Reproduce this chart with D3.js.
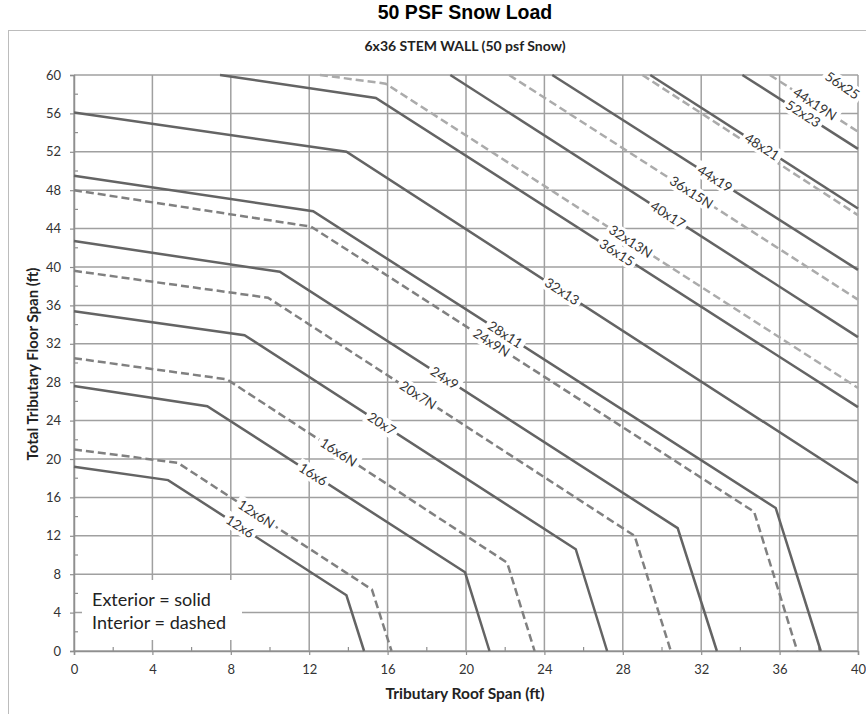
<!DOCTYPE html>
<html>
<head>
<meta charset="utf-8">
<script src="https://cdn.jsdelivr.net/npm/d3@7"></script>
<style>
  body { margin: 0; background: #fff; }
  svg { display: block; }
</style>
</head>
<body>
<svg id="chart"></svg>
<script>
// wall sizes, in draw order; "N" = interior wall
let wallNames = ["12x6", "12x6N", "16x6", "16x6N", "20x7", "20x7N", "24x9", "24x9N", "28x11",
    "32x13", "32x13N", "36x15", "40x17", "36x15N", "44x19", "40x17N", "48x21", "52x23", "44x19N", "56x25"];

// tributary roof span (ft) of each corner of each curve
let roofSpan = [
    [0, 4.8, 13.9, 14.8],
    [0, 5.3, 15.2, 16.2],
    [0, 6.8, 19.95, 21.2],
    [0, 7.8, 22.1, 23.5],
    [0, 8.7, 25.6, 27.2],
    [0, 9.9, 28.6, 30.45],
    [0, 10.5, 30.8, 32.8],
    [0, 12.1, 34.7, 36.9],
    [0, 12.2, 35.8, 38.1],
    [0, 13.9, 40],
    [12.55, 15.9, 40],
    [7.45, 15.4, 40],
    [19.2, 40],
    [22.2, 40],
    [24.4, 40],
    [29.0, 40],
    [29.4, 40],
    [34.1, 40],
    [35.5, 40],
    [38.4, 40]
];

// total tributary floor span (ft) at the same corners
let floorSpan = [
    [19.2, 17.8, 5.8, 0],
    [21.0, 19.6, 6.4, 0],
    [27.6, 25.5, 8.2, 0],
    [30.5, 28.3, 9.2, 0],
    [35.4, 32.9, 10.6, 0],
    [39.6, 36.8, 12.0, 0],
    [42.7, 39.5, 12.8, 0],
    [48.0, 44.2, 14.5, 0],
    [49.5, 45.8, 14.9, 0],
    [56.1, 52.0, 17.5],
    [60, 59.1, 27.4],
    [60, 57.6, 25.4],
    [60, 32.7],
    [60, 36.6],
    [60, 39.7],
    [60, 45.4],
    [60, 46.1],
    [60, 52.3],
    [60, 54.1],
    [60, 57.8]
];

// roof span where the curve name is written (null = hidden)
let labelRoof = [8.47, 9.3, 12.2, 13.5, 15.7, 17.55, 18.9, 21.3, 22.0,
    24.9, 28.4, 27.7, 30.3, 31.5, 32.7, null, 35.1, 37.2, 37.8, 39.2];

let xTicks = d3.range(0, 41, 4);
let yTicks = d3.range(0, 61, 4);
let legendLines = ["Exterior = solid", "Interior = dashed"];

let width = 866;
let height = 714;
let plot = {left: 74, right: 858, top: 75, bottom: 651};

let svg = d3.select("#chart")
    .attr("width", width)
    .attr("height", height);

// outer chart frame
svg.append("rect")
    .attr("x", 8.5).attr("y", 30.5)
    .attr("width", 900).attr("height", 700)
    .attr("fill", "none")
    .attr("stroke", "#bcbcbc");

svg.append("text")
    .attr("x", 465).attr("y", 19)
    .attr("text-anchor", "middle")
    .attr("font-family", "Liberation Sans, Arial, sans-serif")
    .attr("font-weight", "bold")
    .attr("font-size", 19.5)
    .text("50 PSF Snow Load");

svg.append("text")
    .attr("x", 465).attr("y", 51)
    .attr("text-anchor", "middle")
    .attr("font-family", "Lato, sans-serif")
    .attr("font-weight", "bold")
    .attr("font-size", 14)
    .attr("fill", "#222")
    .text("6x36 STEM WALL (50 psf Snow)");

let x = d3.scaleLinear().domain([0, 40]).range([plot.left, plot.right]);
let y = d3.scaleLinear().domain([0, 60]).range([plot.bottom, plot.top]);

let gridColor = "#a0a0a0";

// grid
svg.append("g")
    .selectAll("line")
    .data(xTicks)
    .enter().append("line")
    .attr("x1", d => x(d)).attr("x2", d => x(d))
    .attr("y1", plot.top).attr("y2", plot.bottom)
    .attr("stroke", gridColor).attr("stroke-width", 1.5);

svg.append("g")
    .selectAll("line")
    .data(yTicks)
    .enter().append("line")
    .attr("x1", plot.left).attr("x2", plot.right)
    .attr("y1", d => y(d)).attr("y2", d => y(d))
    .attr("stroke", gridColor).attr("stroke-width", 1.5);

// axes
let xAxis = svg.append("g")
    .attr("transform", "translate(0," + plot.bottom + ")")
    .call(d3.axisBottom(x).tickValues(xTicks).tickSize(4).tickPadding(10));
let yAxis = svg.append("g")
    .attr("transform", "translate(" + plot.left + ",0)")
    .call(d3.axisLeft(y).tickValues(yTicks).tickSize(4).tickPadding(9));

[xAxis, yAxis].forEach(function (a) {
    a.select(".domain").attr("stroke", "#8f8f8f").attr("stroke-width", 1.5);
    a.selectAll(".tick line").attr("stroke", "#8f8f8f").attr("stroke-width", 1.2);
    a.selectAll("text")
        .attr("font-family", "Lato, sans-serif")
        .attr("font-size", 13)
        .attr("fill", "#333");
});

// minor ticks, inside
svg.append("g")
    .selectAll("line")
    .data(d3.range(2, 40, 4))
    .enter().append("line")
    .attr("x1", d => x(d)).attr("x2", d => x(d))
    .attr("y1", plot.bottom).attr("y2", plot.bottom - 4)
    .attr("stroke", "#8f8f8f").attr("stroke-width", 1.2);
svg.append("g")
    .selectAll("line")
    .data(d3.range(2, 60, 4))
    .enter().append("line")
    .attr("x1", plot.left).attr("x2", plot.left + 4)
    .attr("y1", d => y(d)).attr("y2", d => y(d))
    .attr("stroke", "#8f8f8f").attr("stroke-width", 1.2);

// curves
let series = wallNames.map(function (name, i) {
    return {
        name: name,
        interior: name.endsWith("N"),
        size: +name.split("x")[0],
        points: roofSpan[i].map((r, j) => [r, floorSpan[i][j]]),
        labelX: labelRoof[i]
    };
});

let line = d3.line()
    .x(d => x(d[0]))
    .y(d => y(d[1]));

svg.append("g")
    .selectAll("path")
    .data(series)
    .enter().append("path")
    .attr("d", d => line(d.points))
    .attr("fill", "none")
    .attr("stroke", function (d) {
        if (!d.interior) return "#646464";
        return d.size >= 32 ? "#ababab" : "#808080";
    })
    .attr("stroke-width", 2.5)
    .attr("stroke-dasharray", d => d.interior ? "8,4" : null);

// curve labels
function pointOn(pts, rx) {
    for (let j = 0; j < pts.length - 1; j++) {
        let a = pts[j], b = pts[j + 1];
        if (rx >= a[0] && rx <= b[0]) {
            let t = (rx - a[0]) / (b[0] - a[0]);
            let fy = a[1] + t * (b[1] - a[1]);
            let ang = Math.atan2(y(b[1]) - y(a[1]), x(b[0]) - x(a[0])) * 180 / Math.PI;
            return {px: x(rx), py: y(fy), ang: ang};
        }
    }
    return null;
}

let labelG = svg.append("g")
    .selectAll("g")
    .data(series.filter(d => d.labelX != null))
    .enter().append("g")
    .attr("transform", function (d) {
        let p = pointOn(d.points, d.labelX);
        return "translate(" + p.px + "," + p.py + ") rotate(" + p.ang + ")";
    });

labelG.append("rect").attr("fill", "#fff");
labelG.append("text")
    .attr("text-anchor", "middle")
    .attr("dy", "0.35em")
    .attr("font-family", "Lato, sans-serif")
    .attr("font-size", 13.5)
    .attr("fill", "#333")
    .text(d => d.name);

labelG.each(function () {
    let g = d3.select(this);
    let w = g.select("text").node().getComputedTextLength() + 6;
    g.select("rect")
        .attr("x", -w / 2).attr("y", -8)
        .attr("width", w).attr("height", 16);
});

// legend box
svg.append("rect")
    .attr("x", 82).attr("y", 580)
    .attr("width", 160).attr("height", 60)
    .attr("fill", "#fff");
svg.append("g")
    .selectAll("text")
    .data(legendLines)
    .enter().append("text")
    .attr("x", 92)
    .attr("y", (d, i) => 606 + i * 23)
    .attr("font-family", "Lato, sans-serif")
    .attr("font-size", 18)
    .attr("fill", "#222")
    .text(d => d);

// axis titles
svg.append("text")
    .attr("x", 465).attr("y", 699)
    .attr("text-anchor", "middle")
    .attr("font-family", "Lato, sans-serif")
    .attr("font-weight", "bold")
    .attr("font-size", 15.5)
    .attr("fill", "#222")
    .text("Tributary Roof Span (ft)");

svg.append("text")
    .attr("transform", "translate(38,364) rotate(-90)")
    .attr("text-anchor", "middle")
    .attr("font-family", "Lato, sans-serif")
    .attr("font-weight", "bold")
    .attr("font-size", 15)
    .attr("fill", "#222")
    .text("Total Tributary Floor Span (ft)");
</script>
</body>
</html>
